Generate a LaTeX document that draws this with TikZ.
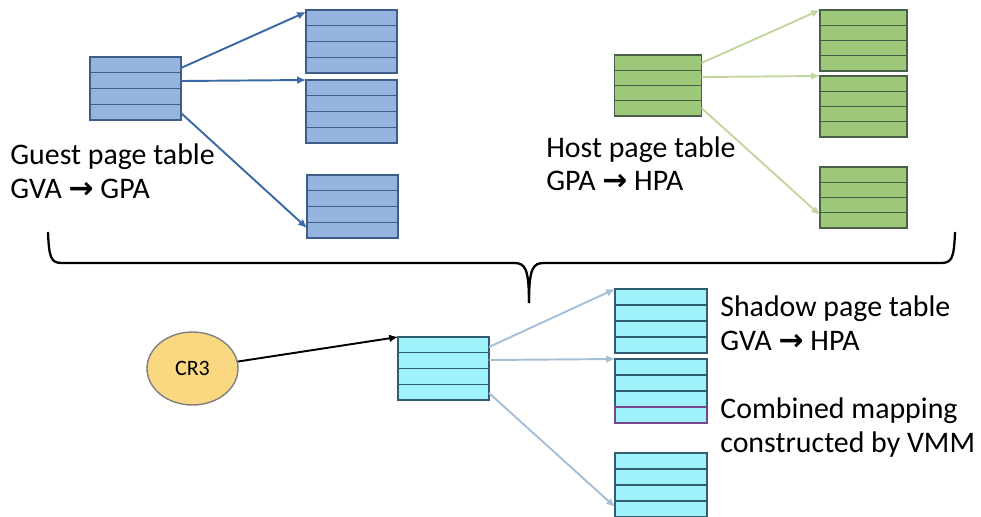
\documentclass[tikz,border=0pt]{standalone}
\usepackage{fontspec}
\setmainfont{Carlito}
\newfontfamily\arrowfont{DejaVu Sans}
\usetikzlibrary{arrows.meta,calc,shapes.geometric}

\definecolor{gfill}{RGB}{149,181,222}
\definecolor{gedge}{RGB}{62,94,138}
\definecolor{garr}{RGB}{58,105,165}
\definecolor{hfill}{RGB}{157,200,122}
\definecolor{hedge}{RGB}{72,96,70}
\definecolor{harr}{RGB}{196,214,160}
\definecolor{sfill}{RGB}{160,242,250}
\definecolor{sedge}{RGB}{50,92,112}
\definecolor{sarr}{RGB}{166,190,214}
\definecolor{crfill}{RGB}{250,216,130}
\definecolor{credge}{RGB}{128,128,128}
\definecolor{oddedge}{RGB}{120,70,140}

\newcommand{\ptarrow}{{\arrowfont\bfseries\char"2192}}

\tikzset{
  ptable/.style={rectangle, inner sep=0pt, outer sep=0pt, draw=#1, line width=0.8pt,
    minimum width=1.82cm, minimum height=1.26cm,
    path picture={\foreach \k in {1,2,3}
      \draw[#1, line width=0.8pt]
        ($(path picture bounding box.north west)!\k/4!(path picture bounding box.south west)$) --
        ($(path picture bounding box.north east)!\k/4!(path picture bounding box.south east)$);}},
  gtable/.style={ptable=gedge, fill=gfill},
  htable/.style={ptable=hedge, fill=hfill, minimum width=1.74cm, minimum height=1.22cm},
  stable/.style={ptable=sedge, fill=sfill},
  ptlabel/.style={anchor=base west, align=left, inner sep=0pt,
    font=\fontsize{17}{18.8}\selectfont},
  ptarr/.style={->, line width=1.1pt}
}

\begin{document}
\begin{tikzpicture}[x=0.02cm, y=-0.02cm, >={Latex[length=5pt,width=4.5pt]}]
  \useasboundingbox (0,0) rectangle (981,517);

  % Guest page table
  \node[gtable] (groot) at (135.5,88.5) {};
  \node[gtable] (gl1) at (351.5,41.5) {};
  \node[gtable] (gl2) at (351.5,111.5) {};
  \node[gtable] (gl3) at (352.5,206.5) {};
  \draw[ptarr, garr] ($(groot.north east)+(0,11)$) -- ($(gl1.north west)+(0,2)$);
  \draw[ptarr, garr] ($(groot.north east)+(0,24)$) -- (gl2.north west);
  \draw[ptarr, garr] ($(groot.south east)+(0,-7)$) -- ($(gl3.south west)+(0,-10)$);
  \node[ptlabel] (glabel) at (10,198) {Guest page table\\GVA \ptarrow{} GPA};

  % Host page table
  \node[htable] (hroot) at (658,85.5) {};
  \node[htable] (hl1) at (863.5,40.5) {};
  \node[htable] (hl2) at (863.5,106.5) {};
  \node[htable] (hl3) at (863.5,197.5) {};
  \draw[ptarr, harr] ($(hroot.north east)+(0,8)$) -- (hl1.north west);
  \draw[ptarr, harr] ($(hroot.north east)+(0,22)$) -- (hl2.north west);
  \draw[ptarr, harr] ($(hroot.south east)+(0,-8)$) -- ($(hl3.south west)+(0,-13)$);
  \node[ptlabel] (hlabel) at (546,191) {Host page table\\GPA \ptarrow{} HPA};

  % Brace
  \draw[line width=1.3pt] (48,232) .. controls (49,258) and (51,263) .. (62,263) -- (514,263)
    .. controls (525,263) and (529,268) .. (529,303);
  \draw[line width=1.3pt] (529,303) .. controls (529,268) and (533,263) .. (544,263) -- (941,263)
    .. controls (952,263) and (954,258) .. (955,232);

  % Shadow page table
  \node[ellipse, draw=credge, fill=crfill, line width=0.8pt, minimum width=1.82cm,
    minimum height=1.46cm, inner sep=0pt, font=\fontsize{12.5}{14}\selectfont] (cr3) at (192.5,368.5) {CR3};
  \node[stable] (sroot) at (443.5,368.5) {};
  \node[stable, minimum width=1.84cm, minimum height=1.28cm] (sl1) at (661,321) {};
  \node[stable, minimum width=1.84cm, minimum height=1.28cm] (sl2) at (661,391) {};
  \node[stable, minimum width=1.84cm, minimum height=1.28cm] (sl3) at (661,485) {};
  \draw[oddedge, line width=0.8pt] ($(sl2.south west)!0.25!(sl2.north west)$) rectangle (sl2.south east);
  \draw[ptarr, black] (cr3) -- (sroot.north west);
  \draw[ptarr, sarr] ($(sroot.north east)+(0,10)$) -- (sl1.north west);
  \draw[ptarr, sarr] ($(sroot.north east)+(0,23)$) -- (sl2.north west);
  \draw[ptarr, sarr] ($(sroot.south east)+(0,-7)$) -- ($(sl3.south west)+(0,-10)$);
  \node[ptlabel] (slabel) at (720,350) {Shadow page table\\GVA \ptarrow{} HPA};
  \node[ptlabel] (clabel) at (720,452) {Combined mapping\\constructed by VMM};
\end{tikzpicture}
\end{document}
